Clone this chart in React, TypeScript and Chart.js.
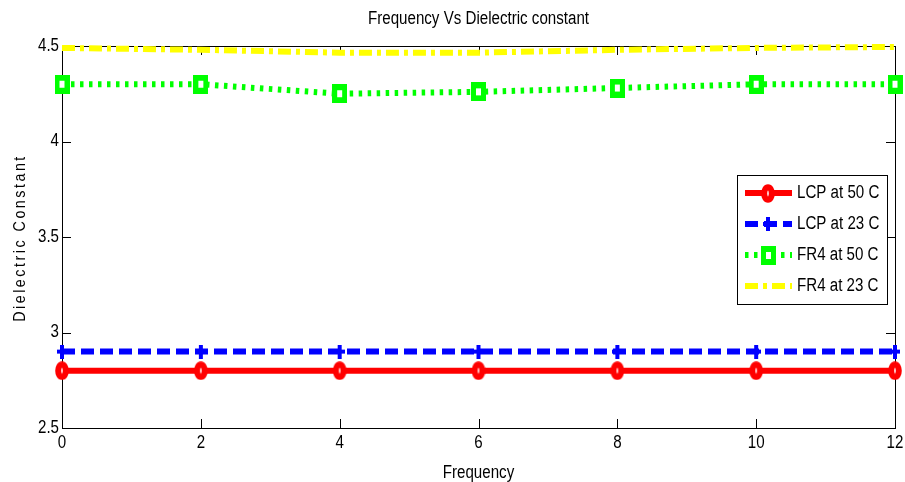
import React, { useEffect, useRef } from "react";
import { Chart, registerables } from "chart.js";

Chart.register(...registerables);

const frequency = [0, 2, 4, 6, 8, 10, 12];
const lcp50 = [2.8, 2.8, 2.8, 2.8, 2.8, 2.8, 2.8];
const lcp23 = [2.9, 2.9, 2.9, 2.9, 2.9, 2.9, 2.9];
const fr4At50 = [4.3, 4.3, 4.25, 4.26, 4.28, 4.3, 4.3];
const fr4At23 = [4.49, 4.48, 4.465, 4.465, 4.48, 4.49, 4.495];
const seriesLabels = ["LCP at 50 C", "LCP at 23 C", "FR4 at 50 C", "FR4 at 23 C"];
const xTicks = [0, 2, 4, 6, 8, 10, 12];
const yTicks = [2.5, 3, 3.5, 4, 4.5];
const titleText = "Frequency Vs Dielectric constant";
const xTitle = "Frequency";
const yTitle = "Dielectric Constant";

const FONT = '"Liberation Sans", Arial, sans-serif';
const SX = 0.84;

function drawText(
  ctx: CanvasRenderingContext2D,
  text: string,
  x: number,
  y: number,
  size: number,
  align: CanvasTextAlign,
  rotate = 0,
  spacing = 0
) {
  ctx.save();
  ctx.translate(x, y);
  if (rotate) ctx.rotate(rotate);
  ctx.scale(SX, 1);
  ctx.font = `${size}px ${FONT}`;
  (ctx as any).letterSpacing = `${spacing}px`;
  ctx.fillStyle = "#000";
  ctx.textAlign = align;
  ctx.textBaseline = "middle";
  ctx.fillText(text, 0, 0);
  ctx.restore();
}

function makeMarker(kind: string, color: string): HTMLCanvasElement {
  const c = document.createElement("canvas");
  if (kind === "circle") {
    c.width = 14; c.height = 19;
    const g = c.getContext("2d")!;
    g.fillStyle = "#fff";
    g.strokeStyle = color;
    g.lineWidth = 6;
    g.beginPath();
    g.ellipse(7, 9.5, 3.8, 6.3, 0, 0, Math.PI * 2);
    g.fill();
    g.stroke();
  } else if (kind === "cross") {
    c.width = 10; c.height = 14;
    const g = c.getContext("2d")!;
    g.fillStyle = color;
    g.fillRect(0, 5, 10, 4);
    g.fillRect(3, 0, 4, 14);
  } else {
    c.width = 15; c.height = 19;
    const g = c.getContext("2d")!;
    g.fillStyle = color;
    g.fillRect(0, 0, 15, 19);
    g.fillStyle = "#fff";
    g.fillRect(5, 6, 5, 7);
  }
  return c;
}

const decorPlugin = {
  id: "decor",
  beforeDatasetsDraw(chart: any) {
    const { ctx, chartArea, scales } = chart;
    const { left, right, top, bottom } = chartArea;
    ctx.save();
    ctx.strokeStyle = "#000";
    ctx.lineWidth = 1;
    ctx.strokeRect(Math.round(left) + 0.5, Math.round(top) + 0.5, Math.round(right - left), Math.round(bottom - top));
    const tl = 9;
    ctx.beginPath();
    for (const v of xTicks) {
      const px = Math.round(scales.x.getPixelForValue(v)) + 0.5;
      ctx.moveTo(px, bottom);
      ctx.lineTo(px, bottom - tl);
      ctx.moveTo(px, top);
      ctx.lineTo(px, top + tl);
    }
    for (const v of yTicks) {
      const py = Math.round(scales.y.getPixelForValue(v)) + 0.5;
      ctx.moveTo(left, py);
      ctx.lineTo(left + tl, py);
      ctx.moveTo(right, py);
      ctx.lineTo(right - tl, py);
    }
    ctx.stroke();
    ctx.restore();
    for (const v of xTicks) {
      drawText(ctx, String(v), scales.x.getPixelForValue(v), bottom + 15, 18, "center");
    }
    for (const v of yTicks) {
      drawText(ctx, String(v), left - 3, scales.y.getPixelForValue(v), 18, "right");
    }
  },
  afterDraw(chart: any) {
    const { ctx, chartArea } = chart;
    const cx = (chartArea.left + chartArea.right) / 2;
    drawText(ctx, titleText, cx, 19, 18, "center");
    drawText(ctx, xTitle, cx, 473, 18, "center");
    drawText(ctx, yTitle, 20, 238, 17, "center", -Math.PI / 2, 3);

    // legend
    ctx.save();
    const bx = 737, by = 175, bw = 150, bh = 129;
    ctx.fillStyle = "#fff";
    ctx.fillRect(bx, by, bw, bh);
    ctx.strokeStyle = "#000";
    ctx.lineWidth = 1;
    ctx.strokeRect(bx + 0.5, by + 0.5, bw, bh);
    const rows = [193, 224, 255, 286];
    chart.data.datasets.forEach((ds: any, i: number) => {
      const y = rows[i];
      ctx.save();
      ctx.strokeStyle = ds.borderColor;
      ctx.lineWidth = ds.borderWidth;
      ctx.setLineDash(ds.borderDash || []);
      ctx.beginPath();
      ctx.moveTo(745, y);
      ctx.lineTo(792, y);
      ctx.stroke();
      ctx.restore();
      const img = ds.pointStyle;
      if (img && typeof img !== "string") {
        ctx.drawImage(img, Math.round(768 - img.width / 2), Math.round(y - img.height / 2));
      }
      drawText(ctx, ds.label, 797, y, 18, "left");
    });
    ctx.restore();
  },
};

export default function App() {
  const ref = useRef<HTMLCanvasElement>(null);
  useEffect(() => {
    const mk = (data: number[]) => data.map((v, i) => ({ x: frequency[i], y: v }));
    const chart = new Chart(ref.current!, {
      type: "line",
      data: {
        datasets: [
          {
            label: seriesLabels[0],
            data: mk(lcp50),
            borderColor: "#ff0000",
            borderWidth: 6,
            pointStyle: makeMarker("circle", "#ff0000"),
            clip: false,
          } as any,
          {
            label: seriesLabels[1],
            data: mk(lcp23),
            borderColor: "#0000ff",
            borderWidth: 6,
            borderDash: [13, 6],
            pointStyle: makeMarker("cross", "#0000ff"),
            clip: false,
          } as any,
          {
            label: seriesLabels[2],
            data: mk(fr4At50),
            borderColor: "#00ff00",
            borderWidth: 6,
            borderDash: [3.5, 5.5],
            pointStyle: makeMarker("rect", "#00ff00"),
            clip: false,
          } as any,
          {
            label: seriesLabels[3],
            data: mk(fr4At23),
            borderColor: "#ffff00",
            borderWidth: 6,
            borderDash: [13, 5, 4, 5],
            pointRadius: 0,
            pointStyle: "circle",
            clip: false,
          } as any,
        ],
      },
      options: {
        animation: false,
        responsive: false,
        layout: { padding: { top: 46, right: 10, left: 0, bottom: 0 } },
        plugins: { legend: { display: false }, title: { display: false }, tooltip: { enabled: false } },
        scales: {
          x: {
            type: "linear",
            min: 0,
            max: 12,
            afterFit: (s: any) => { s.height = 54; },
            grid: { display: false, drawTicks: false },
            border: { display: false },
            ticks: { display: false },
          },
          y: {
            type: "linear",
            min: 2.5,
            max: 4.5,
            afterFit: (s: any) => { s.width = 62; },
            grid: { display: false, drawTicks: false },
            border: { display: false },
            ticks: { display: false },
          },
        },
      },
      plugins: [decorPlugin],
    });
    return () => chart.destroy();
  }, []);
  return (
    <div style={{ position: "fixed", left: 0, top: 0, width: 905, height: 482, background: "#fff" }}>
      <canvas ref={ref} width={905} height={482} style={{ width: 905, height: 482, display: "block" }} />
    </div>
  );
}
